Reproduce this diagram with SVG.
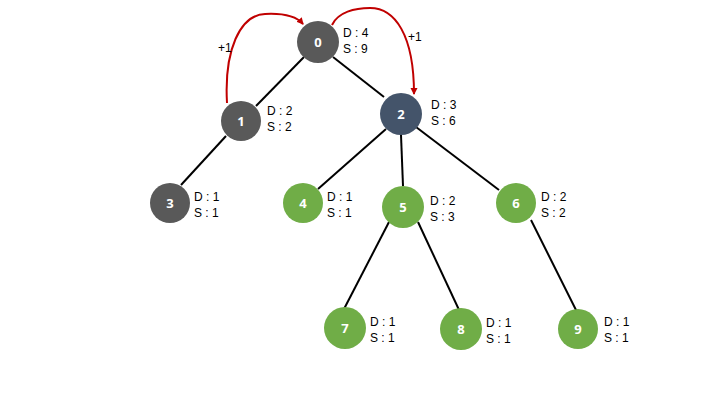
<svg xmlns="http://www.w3.org/2000/svg" width="720" height="405" viewBox="0 0 720 405">
<defs>
<marker id="ah" markerWidth="8" markerHeight="8" refX="6" refY="4" orient="auto" markerUnits="userSpaceOnUse">
<path d="M0,0.5 L7,4 L0,7.5 Z" fill="#C00000"/>
</marker>
<style>
.gray{fill:#595959}
.blue{fill:#44546A}
.green{fill:#70AD47}
.num{font-family:"Open Sans","Liberation Sans",sans-serif;font-size:13px;font-weight:bold;fill:#fff;text-anchor:middle}
.lab{font-family:"Liberation Sans",sans-serif;font-size:12px;fill:#000}
.edge{stroke:#000;stroke-width:2;fill:none}
.red{stroke:#C00000;stroke-width:2;fill:none}
</style>
</defs>
<rect width="720" height="405" fill="#fff"/>
<g id="connectors">
<line class="edge" x1="304" y1="57" x2="256" y2="106"/>
<line class="edge" x1="333" y1="57" x2="384" y2="97"/>
<line class="edge" x1="226" y1="136" x2="181" y2="185"/>
<line class="edge" x1="386" y1="129" x2="318" y2="189"/>
<line class="edge" x1="401" y1="135" x2="403" y2="186"/>
<line class="edge" x1="416" y1="127" x2="499" y2="190"/>
<line class="edge" x1="389" y1="222" x2="344" y2="309"/>
<line class="edge" x1="418" y1="222" x2="460" y2="312"/>
<line class="edge" x1="531" y1="220" x2="577" y2="312"/>
<path class="red" d="M227,103 C224,50 240,15 265,14 C285,13 297,17 303,24" marker-end="url(#ah)"/>
<path class="red" d="M332,25 C338,12 355,8 370,8 C395,8 414,35 414,94" marker-end="url(#ah)"/>
<text class="lab" x="218" y="52">+1</text>
<text class="lab" x="408" y="41">+1</text>
</g>
<g id="node0"><circle class="gray" cx="318" cy="42" r="21"/><text class="num" x="318" y="47">0</text><text class="lab" x="343" y="37">D : 4</text><text class="lab" x="343" y="53">S : 9</text></g>
<g id="node1"><circle class="gray" cx="241" cy="121" r="20"/><text class="num" x="241" y="126">1</text><text class="lab" x="267" y="115">D : 2</text><text class="lab" x="267" y="131">S : 2</text></g>
<g id="node2"><circle class="blue" cx="401" cy="114" r="21"/><text class="num" x="401" y="119">2</text><text class="lab" x="431" y="109">D : 3</text><text class="lab" x="431" y="125">S : 6</text></g>
<g id="node3"><circle class="gray" cx="170" cy="203" r="20"/><text class="num" x="170" y="208">3</text><text class="lab" x="194" y="201">D : 1</text><text class="lab" x="194" y="217">S : 1</text></g>
<g id="node4"><circle class="green" cx="303" cy="203" r="20"/><text class="num" x="303" y="208">4</text><text class="lab" x="327" y="201">D : 1</text><text class="lab" x="327" y="217">S : 1</text></g>
<g id="node5"><circle class="green" cx="403" cy="207" r="21"/><text class="num" x="403" y="212">5</text><text class="lab" x="430" y="205">D : 2</text><text class="lab" x="430" y="221">S : 3</text></g>
<g id="node6"><circle class="green" cx="516" cy="203" r="20"/><text class="num" x="516" y="208">6</text><text class="lab" x="541" y="201">D : 2</text><text class="lab" x="541" y="217">S : 2</text></g>
<g id="node7"><circle class="green" cx="345" cy="328" r="21"/><text class="num" x="345" y="333">7</text><text class="lab" x="370" y="326">D : 1</text><text class="lab" x="370" y="342">S : 1</text></g>
<g id="node8"><circle class="green" cx="461" cy="329" r="21"/><text class="num" x="461" y="334">8</text><text class="lab" x="486" y="327">D : 1</text><text class="lab" x="486" y="343">S : 1</text></g>
<g id="node9"><circle class="green" cx="578" cy="329" r="20"/><text class="num" x="578" y="334">9</text><text class="lab" x="604" y="326">D : 1</text><text class="lab" x="604" y="342">S : 1</text></g>
</svg>
